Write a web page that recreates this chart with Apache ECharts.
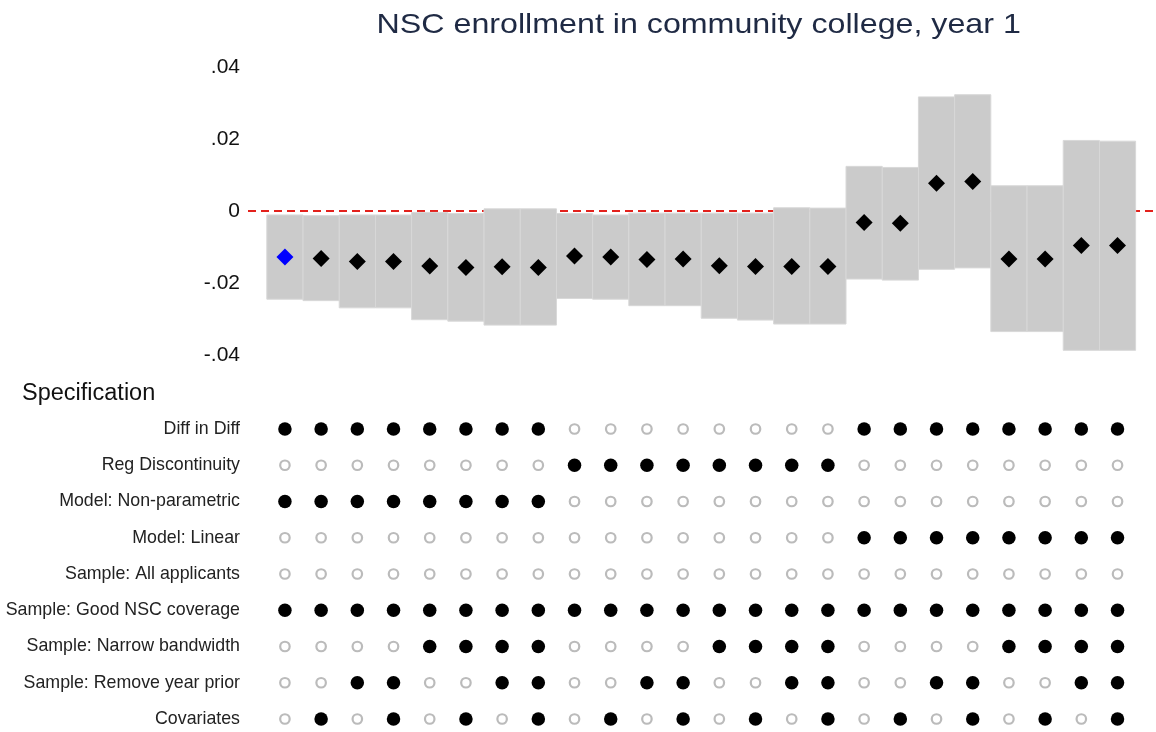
<!DOCTYPE html>
<html>
<head>
<meta charset="utf-8">
<script src="https://cdn.jsdelivr.net/npm/echarts@6/dist/echarts.min.js"></script>
<style>
html,body{margin:0;padding:0;background:#fff;}
#chart{width:1156px;height:732px;}
</style>
</head>
<body>
<div id="chart"></div>
<script>
// ---- Data ----
const titleText = 'NSC enrollment in community college, year 1';
const specIds = [1,2,3,4,5,6,7,8,9,10,11,12,13,14,15,16,17,18,19,20,21,22,23,24];
const estimates = [-0.0128,-0.0132,-0.0140,-0.0140,-0.0153,-0.0157,-0.0155,-0.0157,
                   -0.0125,-0.0128,-0.0135,-0.0133,-0.0152,-0.0154,-0.0154,-0.0154,
                   -0.0032,-0.0034,0.0077,0.0082,-0.0133,-0.0133,-0.0096,-0.0096];
const ciLow = [-0.0245,-0.0249,-0.0269,-0.0269,-0.0302,-0.0306,-0.0317,-0.0317,
               -0.0243,-0.0245,-0.0263,-0.0263,-0.0298,-0.0303,-0.0314,-0.0314,
               -0.0189,-0.0192,-0.0162,-0.0158,-0.0335,-0.0335,-0.0387,-0.0387];
const ciHigh = [-0.0011,-0.0013,-0.0011,-0.0011,-0.0004,-0.0007,0.0006,0.0006,
                -0.0007,-0.0011,-0.0006,-0.0006,-0.0006,-0.0006,0.0009,0.0008,
                0.0124,0.0121,0.0317,0.0323,0.0070,0.0070,0.0196,0.0194];
const highlightIndex = 0;
const yTickValues = [-0.04,-0.02,0,0.02,0.04];
const yTickLabels = ['-.04','-.02','0','.02','.04'];

const specHeader = 'Specification';
const rowNames = ['Diff in Diff','Reg Discontinuity','Model: Non-parametric','Model: Linear',
  'Sample: All applicants','Sample: Good NSC coverage','Sample: Narrow bandwidth',
  'Sample: Remove year prior','Covariates'];
const diffInDiff      = [1,1,1,1,1,1,1,1,0,0,0,0,0,0,0,0,1,1,1,1,1,1,1,1];
const regDiscontinuity= [0,0,0,0,0,0,0,0,1,1,1,1,1,1,1,1,0,0,0,0,0,0,0,0];
const modelNonParam   = [1,1,1,1,1,1,1,1,0,0,0,0,0,0,0,0,0,0,0,0,0,0,0,0];
const modelLinear     = [0,0,0,0,0,0,0,0,0,0,0,0,0,0,0,0,1,1,1,1,1,1,1,1];
const sampleAll       = [0,0,0,0,0,0,0,0,0,0,0,0,0,0,0,0,0,0,0,0,0,0,0,0];
const sampleGoodNSC   = [1,1,1,1,1,1,1,1,1,1,1,1,1,1,1,1,1,1,1,1,1,1,1,1];
const sampleNarrow    = [0,0,0,0,1,1,1,1,0,0,0,0,1,1,1,1,0,0,0,0,1,1,1,1];
const sampleRemoveYr  = [0,0,1,1,0,0,1,1,0,0,1,1,0,0,1,1,0,0,1,1,0,0,1,1];
const covariates      = [0,1,0,1,0,1,0,1,0,1,0,1,0,1,0,1,0,1,0,1,0,1,0,1];
const specRows = [diffInDiff, regDiscontinuity, modelNonParam, modelLinear, sampleAll,
                  sampleGoodNSC, sampleNarrow, sampleRemoveYr, covariates];

// ---- Build ----
const FONT = '"Liberation Sans", Arial, Helvetica, sans-serif';
const ciData = specIds.map((s, i) => [s, ciLow[i], ciHigh[i]]);
const estData = specIds.map((s, i) => [s, estimates[i]]);
const onData = [], offData = [];
specRows.forEach((row, r) => row.forEach((v, i) => {
  (v ? onData : offData).push([specIds[i], r]);
}));

const chart = echarts.init(document.getElementById('chart'), null, {renderer: 'canvas'});
const xCommon = {type: 'value', min: -0.02, max: 24.98, show: false};

chart.setOption({
  backgroundColor: '#ffffff',
  animation: false,
  grid: [
    {left: 248, right: 3, top: 67, bottom: 377},
    {left: 248, right: 3, top: 429, bottom: 13}
  ],
  xAxis: [
    Object.assign({gridIndex: 0}, xCommon),
    Object.assign({gridIndex: 1}, xCommon)
  ],
  yAxis: [
    {
      gridIndex: 0, type: 'value', min: -0.04, max: 0.04, interval: 0.02,
      axisLine: {show: false}, axisTick: {show: false}, splitLine: {show: false},
      axisLabel: {
        margin: 8, fontSize: 21, color: '#111', fontFamily: FONT,
        formatter: v => {
          const k = yTickValues.findIndex(t => Math.abs(t - v) < 1e-9);
          return k >= 0 ? yTickLabels[k] : '';
        }
      }
    },
    {
      gridIndex: 1, type: 'value', min: 0, max: 8, interval: 1, inverse: true,
      axisLine: {show: false}, axisTick: {show: false}, splitLine: {show: false},
      axisLabel: {
        margin: 8, fontSize: 17.8, color: '#222', fontFamily: FONT,
        formatter: v => rowNames[Math.round(v)] || ''
      }
    }
  ],
  graphic: [
    {
      type: 'text', x: 698.7, y: 25, scaleX: 1.15,
      style: {text: titleText, font: '28px ' + FONT, fill: '#1f2a44',
              textAlign: 'center', textVerticalAlign: 'middle'}
    },
    {
      type: 'text', x: 22, y: 394,
      style: {text: specHeader, font: '23.5px ' + FONT, fill: '#111',
              textAlign: 'left', textVerticalAlign: 'middle'}
    }
  ],
  series: [
    {
      type: 'custom', xAxisIndex: 0, yAxisIndex: 0, z: 2,
      data: ciData,
      encode: {x: 0, y: [1, 2]},
      renderItem: function (params, api) {
        const lo = api.coord([api.value(0), api.value(1)]);
        const hi = api.coord([api.value(0), api.value(2)]);
        const w = api.size([1, 0])[0];
        return {
          type: 'rect',
          shape: {x: lo[0] - w / 2, y: hi[1], width: w, height: lo[1] - hi[1]},
          style: {fill: '#cbcbcb', stroke: '#d8d8d8', lineWidth: 1}
        };
      },
      markLine: {
        silent: true, symbol: 'none', z: 1, label: {show: false},
        lineStyle: {color: '#e3211c', type: [8, 5], width: 2},
        data: [{yAxis: 0}]
      }
    },
    {
      type: 'scatter', xAxisIndex: 0, yAxisIndex: 0, z: 3, clip: false,
      symbol: 'diamond', symbolSize: 17,
      data: estData,
      itemStyle: {opacity: 1, color: p => p.dataIndex === highlightIndex ? '#0000ff' : '#000000'}
    },
    {
      type: 'scatter', xAxisIndex: 1, yAxisIndex: 1, clip: false,
      symbol: 'circle', symbolSize: 13.5,
      data: onData,
      itemStyle: {opacity: 1, color: '#000000'}
    },
    {
      type: 'scatter', xAxisIndex: 1, yAxisIndex: 1, clip: false,
      symbol: 'circle', symbolSize: 9.5,
      data: offData,
      itemStyle: {opacity: 1, color: '#ffffff', borderColor: '#bbbbbb', borderWidth: 2.2}
    }
  ]
});
</script>
</body>
</html>
